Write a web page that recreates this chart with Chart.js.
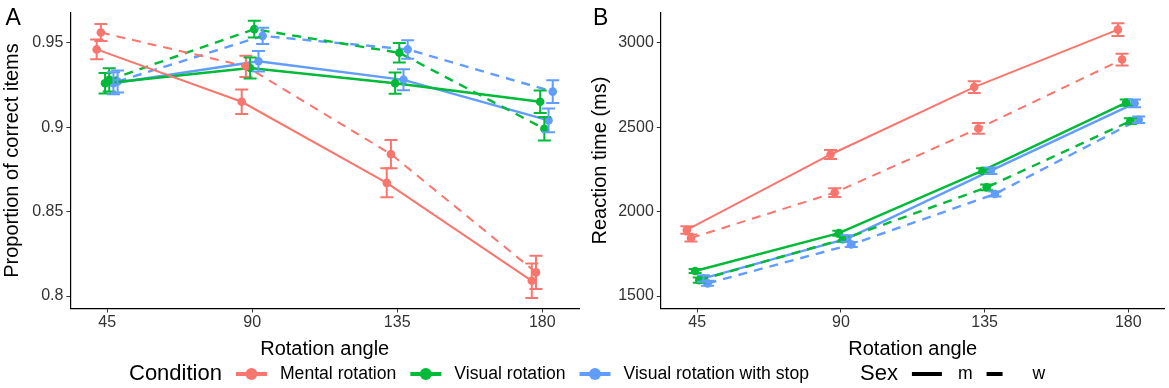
<!DOCTYPE html>
<html>
<head>
<meta charset="utf-8">
<script src="https://cdn.jsdelivr.net/npm/chart.js@4/dist/chart.umd.min.js"></script>
<style>
html, body { margin: 0; padding: 0; background: #fff; }
#wrap { position: relative; width: 1169px; height: 388px; }
#chartA { position: absolute; left: 0; top: 0; }
#chartB { position: absolute; left: 585px; top: 0; }
</style>
</head>
<body>
<div id="wrap">
	<canvas id="chartA" width="1169" height="388"></canvas>
	<canvas id="chartB" width="584" height="388"></canvas>
</div>
<script>
// rotation angles (x categories)
const angles = [45, 90, 135, 180];
const conditions = ['Mental rotation', 'Visual rotation', 'Visual rotation with stop'];
const sexes = ['m', 'w'];

// panel A: proportion of correct items (mean, error)
const accMentalM = [0.946, 0.915, 0.867, 0.809];
const accMentalMErr = [0.0058, 0.0072, 0.0086, 0.0102];
const accMentalW = [0.956, 0.936, 0.884, 0.814];
const accMentalWErr = [0.005, 0.0063, 0.0084, 0.0099];
const accVisualM = [0.926, 0.935, 0.926, 0.915];
const accVisualMErr = [0.0061, 0.0062, 0.0063, 0.0067];
const accVisualW = [0.928, 0.958, 0.944, 0.899];
const accVisualWErr = [0.0069, 0.005, 0.0058, 0.007];
const accStopM = [0.926, 0.939, 0.928, 0.904];
const accStopMErr = [0.0065, 0.0061, 0.0062, 0.007];
const accStopW = [0.927, 0.954, 0.946, 0.921];
const accStopWErr = [0.0065, 0.0048, 0.0055, 0.0067];

// panel B: reaction time in ms (mean, error)
const rtMentalM = [1891, 2338, 2737, 3077];
const rtMentalMErr = [22, 27, 35, 38];
const rtMentalW = [1843, 2112, 2492, 2900];
const rtMentalWErr = [21, 26, 32, 35];
const rtVisualM = [1648, 1872, 2242, 2645];
const rtVisualMErr = [12, 15, 15, 19];
const rtVisualW = [1594, 1836, 2143, 2536];
const rtVisualWErr = [15, 15, 17, 17];
const rtStopM = [1604, 1840, 2242, 2641];
const rtStopMErr = [19, 19, 19, 23];
const rtStopW = [1575, 1805, 2104, 2544];
const rtStopWErr = [15, 15, 15, 19];

// tick labels
const accTicks = [0.8, 0.85, 0.9, 0.95];
const rtTicks = [1500, 2000, 2500, 3000];

const COLORS = ['#F8766D', '#00BA38', '#619CFF'];
const FONT = "'Liberation Sans', Arial, sans-serif";
const DODGE = [-3.25, -1.95, -0.65, 0.65, 1.95, 3.25];

function series(values, errs, colorIdx, sexIdx, dodgeIdx) {
	return {
		data: values.map((v, i) => ({ x: angles[i] + DODGE[dodgeIdx], y: v })),
		err: errs,
		borderColor: COLORS[colorIdx],
		backgroundColor: COLORS[colorIdx],
		borderWidth: colorIdx === 0 ? 2 : 2.4,
		borderDash: sexIdx === 1 ? [9, 7] : [],
		pointRadius: 4.3,
		pointBorderWidth: 0,
		tension: 0,
		fill: false
	};
}

// 에러바는 chart.js에 없어서 플러그인으로 그림
const errorBars = {
	id: 'errorBars',
	afterDatasetsDraw(chart) {
		const { ctx } = chart;
		const x = chart.scales.x, y = chart.scales.y;
		chart.data.datasets.forEach(ds => {
			ctx.save();
			ctx.strokeStyle = ds.borderColor;
			ctx.lineWidth = 2;
			ds.data.forEach((p, i) => {
				const px = x.getPixelForValue(p.x);
				const top = y.getPixelForValue(p.y + ds.err[i]);
				const bot = y.getPixelForValue(p.y - ds.err[i]);
				ctx.beginPath();
				ctx.moveTo(px, top); ctx.lineTo(px, bot);
				ctx.moveTo(px - 6.5, top); ctx.lineTo(px + 6.5, top);
				ctx.moveTo(px - 6.5, bot); ctx.lineTo(px + 6.5, bot);
				ctx.stroke();
			});
			ctx.restore();
		});
	}
};

function panelLetter(letter, lx) {
	return {
		id: 'panelLetter' + letter,
		afterDraw(chart) {
			const ctx = chart.ctx;
			ctx.save();
			ctx.fillStyle = '#000';
			ctx.font = '23px ' + FONT;
			ctx.textBaseline = 'alphabetic';
			ctx.fillText(letter, lx, 25);
			ctx.restore();
		}
	};
}

// 하단 범례 (두 패널 공통)
const bottomLegend = {
	id: 'bottomLegend',
	afterDraw(chart) {
		const ctx = chart.ctx;
		const cy = 374;
		let x = 129;
		ctx.save();
		ctx.textBaseline = 'middle';
		ctx.fillStyle = '#000';

		ctx.font = '22px ' + FONT;
		ctx.fillText('Condition', x, cy);
		x += ctx.measureText('Condition').width + 14;

		conditions.forEach((name, i) => {
			ctx.strokeStyle = COLORS[i];
			ctx.fillStyle = COLORS[i];
			ctx.lineWidth = 4;
			ctx.beginPath();
			ctx.moveTo(x, cy); ctx.lineTo(x + 31, cy);
			ctx.stroke();
			ctx.beginPath();
			ctx.arc(x + 15.5, cy, 6, 0, Math.PI * 2);
			ctx.fill();
			x += 31 + 13;
			ctx.fillStyle = '#000';
			ctx.font = '17.6px ' + FONT;
			ctx.fillText(name, x, cy);
			x += ctx.measureText(name).width + 14;
		});

		x += 37;
		ctx.font = '22px ' + FONT;
		ctx.fillText('Sex', x, cy);
		x += ctx.measureText('Sex').width + 14;

		sexes.forEach((s, i) => {
			ctx.strokeStyle = '#000';
			ctx.lineWidth = 4;
			ctx.setLineDash(i === 1 ? [16, 20] : []);
			ctx.beginPath();
			ctx.moveTo(x, cy); ctx.lineTo(x + 30, cy);
			ctx.stroke();
			ctx.setLineDash([]);
			x += 30 + 16;
			ctx.font = '17.6px ' + FONT;
			ctx.fillText(s, x, cy);
			x += ctx.measureText(s).width + 14;
		});
		ctx.restore();
	}
};

function makeScales(yMin, yMax, yTicks, yTitle, yWidth, titlePad) {
	return {
		x: {
			type: 'linear',
			min: 33.6,
			max: 191.4,
			afterBuildTicks: s => { s.ticks = angles.map(v => ({ value: v })); },
			afterFit: s => { s.height = 55; },
			grid: { display: true, drawOnChartArea: false, drawTicks: true, tickLength: 4, color: '#333' },
			border: { display: true, color: '#000', width: 1.2 },
			ticks: { color: '#333', font: { family: FONT, size: 16 }, padding: 0, maxRotation: 0, callback: v => String(v) },
			title: { display: true, text: 'Rotation angle', color: '#000', font: { family: FONT, size: 20 }, padding: { top: 0, bottom: 2.5 } }
		},
		y: {
			type: 'linear',
			min: yMin,
			max: yMax,
			afterBuildTicks: s => { s.ticks = yTicks.map(v => ({ value: v })); },
			afterFit: s => { s.width = yWidth; },
			grid: { display: true, drawOnChartArea: false, drawTicks: true, tickLength: 4, color: '#333' },
			border: { display: true, color: '#000', width: 1.2 },
			ticks: { color: '#333', font: { family: FONT, size: 16 }, padding: 3, callback: v => String(v) },
			title: { display: true, text: yTitle, color: '#000', font: { family: FONT, size: 20 }, padding: { top: titlePad, bottom: 0 } }
		}
	};
}

const commonOpts = {
	responsive: false,
	animation: false,
	devicePixelRatio: 1,
	plugins: { legend: { display: false }, tooltip: { enabled: false } },
	events: []
};

new Chart(document.getElementById('chartA'), {
	type: 'line',
	data: {
		datasets: [
			series(accMentalM, accMentalMErr, 0, 0, 0),
			series(accMentalW, accMentalWErr, 0, 1, 1),
			series(accVisualM, accVisualMErr, 1, 0, 2),
			series(accVisualW, accVisualWErr, 1, 1, 3),
			series(accStopM, accStopMErr, 2, 0, 4),
			series(accStopW, accStopWErr, 2, 1, 5)
		]
	},
	options: Object.assign({}, commonOpts, {
		layout: { padding: { left: 0, right: 590, top: 4, bottom: 24.5 } },
		scales: makeScales(0.7926, 0.9678, accTicks, 'Proportion of correct items', 70.4, 0)
	}),
	plugins: [errorBars, panelLetter('A', 5.5), bottomLegend]
});

new Chart(document.getElementById('chartB'), {
	type: 'line',
	data: {
		datasets: [
			series(rtMentalM, rtMentalMErr, 0, 0, 0),
			series(rtMentalW, rtMentalWErr, 0, 1, 1),
			series(rtVisualM, rtVisualMErr, 1, 0, 2),
			series(rtVisualW, rtVisualWErr, 1, 1, 3),
			series(rtStopM, rtStopMErr, 2, 0, 4),
			series(rtStopW, rtStopWErr, 2, 1, 5)
		]
	},
	options: Object.assign({}, commonOpts, {
		layout: { padding: { left: 0, right: 4.3, top: 4, bottom: 24.5 } },
		scales: makeScales(1426, 3178, rtTicks, 'Reaction time (ms)', 75.8, 3)
	}),
	plugins: [errorBars, panelLetter('B', 8)]
});
</script>
</body>
</html>
